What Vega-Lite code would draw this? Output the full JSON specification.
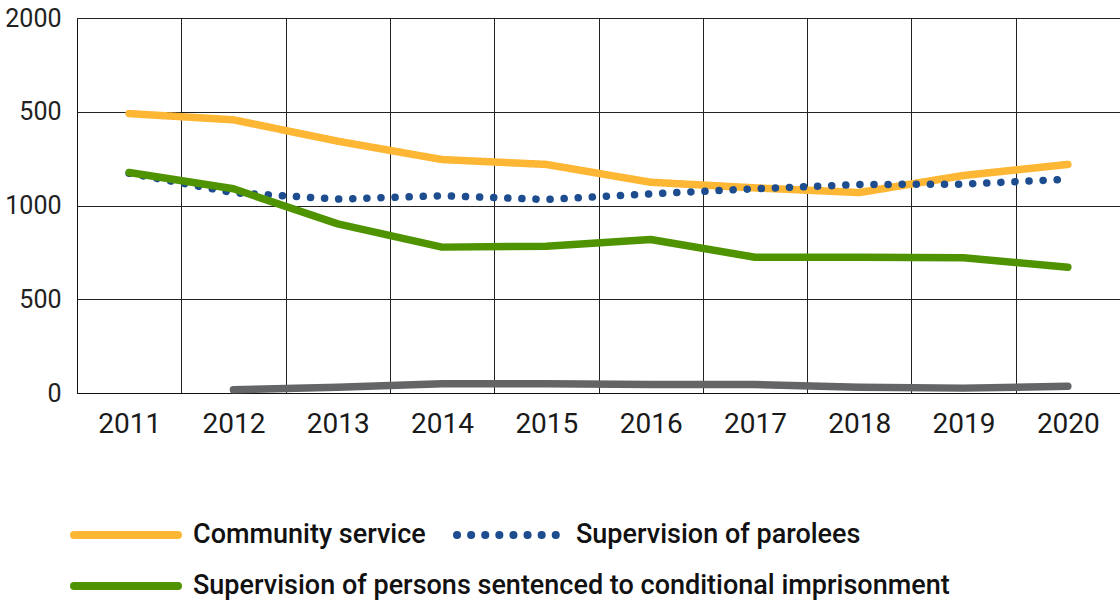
{
  "$schema": "https://vega.github.io/schema/vega-lite/v6.json",
  "width": 1043,
  "height": 375,
  "autosize": {"type": "none"},
  "padding": {"left": 77, "top": 18, "right": 0, "bottom": 207},
  "background": "white",
  "config": {"view": {"stroke": null}, "font": "Roboto"},
  "data": {
    "values": [
      {"year": "2011", "series": "Community service", "value": 1490},
      {"year": "2012", "series": "Community service", "value": 1457},
      {"year": "2013", "series": "Community service", "value": 1343},
      {"year": "2014", "series": "Community service", "value": 1245},
      {"year": "2015", "series": "Community service", "value": 1219},
      {"year": "2016", "series": "Community service", "value": 1124},
      {"year": "2017", "series": "Community service", "value": 1094},
      {"year": "2018", "series": "Community service", "value": 1069},
      {"year": "2019", "series": "Community service", "value": 1160},
      {"year": "2020", "series": "Community service", "value": 1219},
      {"year": "2011", "series": "Supervision of parolees", "value": 1172},
      {"year": "2012", "series": "Supervision of parolees", "value": 1068},
      {"year": "2013", "series": "Supervision of parolees", "value": 1034},
      {"year": "2014", "series": "Supervision of parolees", "value": 1052},
      {"year": "2015", "series": "Supervision of parolees", "value": 1032},
      {"year": "2016", "series": "Supervision of parolees", "value": 1062},
      {"year": "2017", "series": "Supervision of parolees", "value": 1089},
      {"year": "2018", "series": "Supervision of parolees", "value": 1112},
      {"year": "2019", "series": "Supervision of parolees", "value": 1114},
      {"year": "2020", "series": "Supervision of parolees", "value": 1140},
      {"year": "2011", "series": "Supervision of persons sentenced to conditional imprisonment", "value": 1176},
      {"year": "2012", "series": "Supervision of persons sentenced to conditional imprisonment", "value": 1089},
      {"year": "2013", "series": "Supervision of persons sentenced to conditional imprisonment", "value": 902},
      {"year": "2014", "series": "Supervision of persons sentenced to conditional imprisonment", "value": 778},
      {"year": "2015", "series": "Supervision of persons sentenced to conditional imprisonment", "value": 783},
      {"year": "2016", "series": "Supervision of persons sentenced to conditional imprisonment", "value": 819},
      {"year": "2017", "series": "Supervision of persons sentenced to conditional imprisonment", "value": 724},
      {"year": "2018", "series": "Supervision of persons sentenced to conditional imprisonment", "value": 724},
      {"year": "2019", "series": "Supervision of persons sentenced to conditional imprisonment", "value": 721},
      {"year": "2020", "series": "Supervision of persons sentenced to conditional imprisonment", "value": 671},
      {"year": "2012", "series": "Electronic monitoring", "value": 17},
      {"year": "2013", "series": "Electronic monitoring", "value": 31},
      {"year": "2014", "series": "Electronic monitoring", "value": 49},
      {"year": "2015", "series": "Electronic monitoring", "value": 49},
      {"year": "2016", "series": "Electronic monitoring", "value": 45},
      {"year": "2017", "series": "Electronic monitoring", "value": 45},
      {"year": "2018", "series": "Electronic monitoring", "value": 31},
      {"year": "2019", "series": "Electronic monitoring", "value": 26},
      {"year": "2020", "series": "Electronic monitoring", "value": 36}
    ]
  },
  "encoding": {
    "x": {
      "field": "year",
      "type": "ordinal",
      "scale": {"type": "band", "paddingInner": 0, "paddingOuter": 0},
      "axis": {
        "title": null,
        "grid": true,
        "tickBand": "extent",
        "ticks": false,
        "tickSize": 0,
        "domain": true,
        "domainColor": "#111111",
        "gridColor": "#222222",
        "gridWidth": 1,
        "labelFont": "Roboto",
        "labelFontSize": 28,
        "labelColor": "#1a1a1a",
        "labelPadding": 17,
        "labelAngle": 0
      }
    },
    "y": {
      "field": "value",
      "type": "quantitative",
      "scale": {"domain": [0, 2000], "nice": false},
      "axis": {
        "title": null,
        "values": [0, 500, 1000, 1500, 2000],
        "labelExpr": "datum.value == 1500 ? '500' : datum.label",
        "format": "d",
        "grid": true,
        "ticks": false,
        "tickSize": 0,
        "domain": true,
        "domainColor": "#111111",
        "gridColor": "#222222",
        "gridWidth": 1,
        "labelFont": "Roboto",
        "labelFontSize": 25,
        "labelColor": "#222222",
        "labelPadding": 16
      }
    }
  },
  "layer": [
    {
      "transform": [{"filter": "datum.series == 'Electronic monitoring'"}],
      "mark": {"type": "line", "strokeWidth": 7.5, "strokeCap": "round", "strokeJoin": "round", "color": "#646567"},
      "encoding": {}
    },
    {
      "transform": [{"filter": "datum.series == 'Community service' || datum.series == 'Supervision of parolees'"}],
      "mark": {"type": "line", "strokeWidth": 7.5, "strokeCap": "round", "strokeJoin": "round"},
      "encoding": {
        "color": {
          "field": "series",
          "type": "nominal",
          "scale": {
            "domain": ["Community service", "Supervision of parolees"],
            "range": ["#FDB735", "#1E4D8F"]
          },
          "legend": {
            "orient": "none",
            "legendX": -7,
            "legendY": 504,
            "direction": "horizontal",
            "symbolType": "stroke",
            "symbolSize": 10816,
            "symbolStrokeWidth": 8,
            "clipHeight": 26,
            "columnPadding": 27,
            "labelFont": "Roboto",
            "labelFontSize": 27,
            "labelFontWeight": 500,
            "labelColor": "#111111",
            "labelOffset": 11,
            "labelLimit": 0,
            "title": null,
            "encode": {"symbols": {"update": {"strokeCap": {"value": "round"}}}}
          }
        },
        "strokeDash": {
          "field": "series",
          "type": "nominal",
          "scale": {
            "domain": ["Community service", "Supervision of parolees"],
            "range": [[1, 0], [0.1, 14]]
          },
          "legend": {
            "orient": "none",
            "legendX": -7,
            "legendY": 504,
            "direction": "horizontal",
            "symbolType": "stroke",
            "symbolSize": 10816,
            "symbolStrokeWidth": 8,
            "clipHeight": 26,
            "columnPadding": 27,
            "labelFont": "Roboto",
            "labelFontSize": 27,
            "labelFontWeight": 500,
            "labelColor": "#111111",
            "labelOffset": 11,
            "labelLimit": 0,
            "title": null,
            "encode": {"symbols": {"update": {"strokeCap": {"value": "round"}}}}
          }
        }
      }
    },
    {
      "transform": [{"filter": "datum.series == 'Supervision of persons sentenced to conditional imprisonment'"}],
      "mark": {"type": "line", "strokeWidth": 7.5, "strokeCap": "round", "strokeJoin": "round"},
      "encoding": {
        "stroke": {
          "field": "series",
          "type": "nominal",
          "scale": {
            "domain": ["Supervision of persons sentenced to conditional imprisonment"],
            "range": ["#4F9400"]
          },
          "legend": {
            "orient": "none",
            "legendX": -7,
            "legendY": 555,
            "direction": "horizontal",
            "symbolType": "stroke",
            "symbolSize": 10816,
            "symbolStrokeWidth": 8,
            "clipHeight": 26,
            "labelFont": "Roboto",
            "labelFontSize": 27,
            "labelFontWeight": 500,
            "labelColor": "#111111",
            "labelOffset": 11,
            "labelLimit": 0,
            "title": null,
            "encode": {"symbols": {"update": {"strokeCap": {"value": "round"}}}}
          }
        }
      }
    }
  ]
}
